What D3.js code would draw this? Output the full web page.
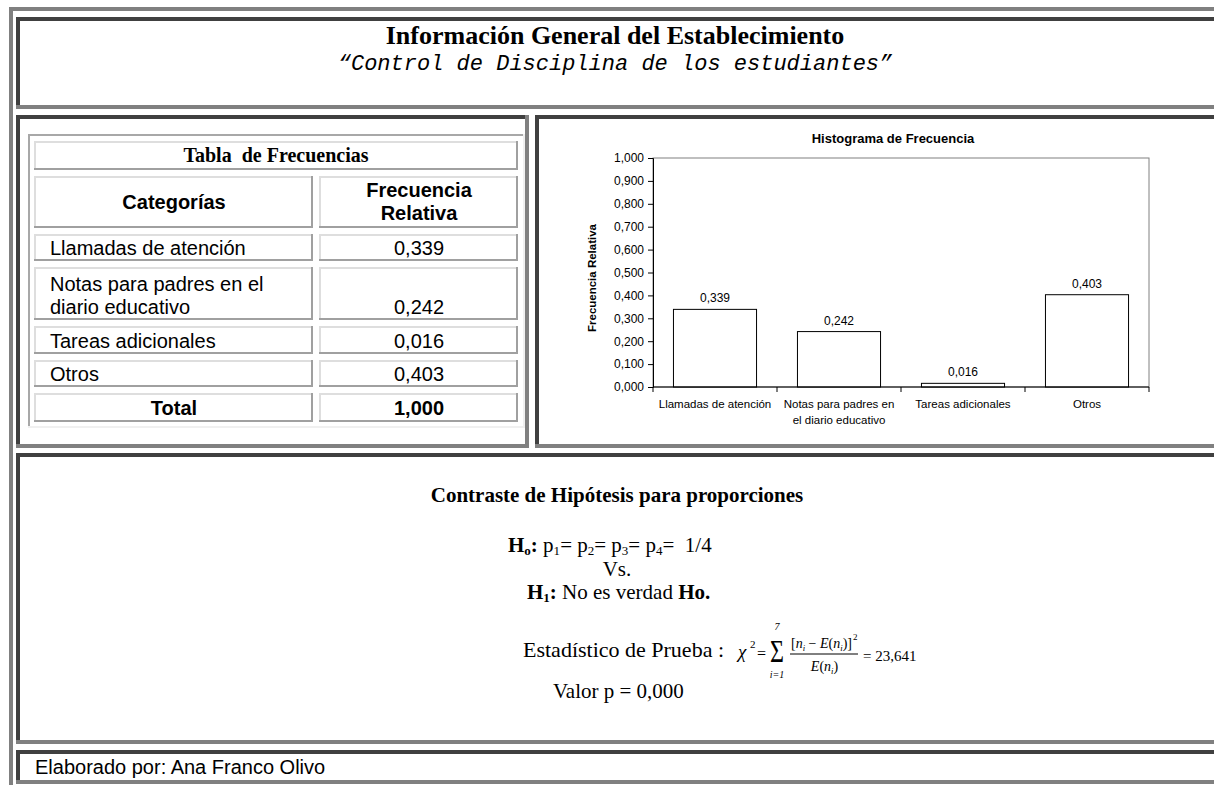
<!DOCTYPE html>
<html>
<head>
<meta charset="utf-8">
<script src="https://cdn.jsdelivr.net/npm/d3@7"></script>
<style>
  body { margin: 0; background: #fff; }
  svg { display: block; }
</style>
</head>
<body>
<script>
// datos
var categorias = ["Llamadas de atención", "Notas para padres en el diario educativo", "Tareas adicionales", "Otros"];
var etiquetasTabla = [["Llamadas de atención"], ["Notas para padres en el", "diario educativo"], ["Tareas adicionales"], ["Otros"]];
var etiquetasEje = [["Llamadas de atención"], ["Notas para padres en", "el diario educativo"], ["Tareas adicionales"], ["Otros"]];
var frecRelativa = [0.339, 0.242, 0.016, 0.403];
var total = 1.000;
var ticksY = [0, 0.1, 0.2, 0.3, 0.4, 0.5, 0.6, 0.7, 0.8, 0.9, 1.0];

var W = 1214, H = 785;
var oscuro = "#404040", gris = "#808080";

var locale = d3.formatLocale({decimal: ",", thousands: ".", grouping: [3], currency: ["", ""]});
var fmt = locale.format(".3f");

var svg = d3.select("body").append("svg")
    .attr("width", W)
    .attr("height", H);

// bordes tipo "inset" de las celdas html
function bordes(x0, y0, x1, y1, w, cA, cB) {
    svg.append("rect").attr("x", x0).attr("y", y0).attr("width", x1 - x0).attr("height", w).attr("fill", cA);
    svg.append("rect").attr("x", x0).attr("y", y0).attr("width", w).attr("height", y1 - y0).attr("fill", cA);
    svg.append("rect").attr("x", x0).attr("y", y1 - w).attr("width", x1 - x0).attr("height", w).attr("fill", cB);
    svg.append("rect").attr("x", x1 - w).attr("y", y0).attr("width", w).attr("height", y1 - y0).attr("fill", cB);
}

function texto(x, y, s, size, family, opts) {
    opts = opts || {};
    return svg.append("text")
        .attr("x", x).attr("y", y)
        .attr("font-family", family)
        .attr("font-size", size)
        .attr("font-weight", opts.bold ? "bold" : "normal")
        .attr("font-style", opts.italic ? "italic" : "normal")
        .attr("text-anchor", opts.anchor || "start")
        .attr("fill", "#000")
        .text(s);
}

var SERIF = "'Liberation Serif','Times New Roman',serif";
var SANS = "'Liberation Sans',Arial,sans-serif";
var MONO = "'Liberation Mono','Courier New',monospace";

// tabla exterior y celdas
bordes(9, 7, 1240, 800, 4, gris, gris);
bordes(16, 17, 1230, 109, 4, oscuro, gris);
bordes(16, 115, 529, 448, 4, oscuro, gris);
bordes(535, 115, 1230, 448, 4, oscuro, gris);
bordes(16, 453, 1230, 744, 4, oscuro, gris);
bordes(16, 750, 1230, 784, 4, oscuro, gris);

// encabezado
texto(615, 44, "Información General del Establecimiento", 26, SERIF, {bold: true, anchor: "middle"});
texto(615, 70, "\u201CControl de Disciplina de los estudiantes\u201D", 22, MONO, {italic: true, anchor: "middle"});

// ---- tabla de frecuencias ----
bordes(28, 134, 525, 428, 2, "#a8a8a8", "#f0f0f0");
var cLight = "#dedede", cDark = "#a0a0a0";
var col1 = [34, 313], col2 = [319, 518];
bordes(34, 141, 518, 170, 2, cLight, cDark);
svg.append("text")
    .attr("x", 276).attr("y", 162)
    .attr("font-family", SERIF).attr("font-size", 20).attr("font-weight", "bold")
    .attr("text-anchor", "middle")
    .attr("xml:space", "preserve")
    .text("Tabla  de Frecuencias");

bordes(col1[0], 176, col1[1], 228, 2, cLight, cDark);
bordes(col2[0], 176, col2[1], 228, 2, cLight, cDark);
texto(174, 209, "Categorías", 20, SANS, {bold: true, anchor: "middle"});
texto(419, 197, "Frecuencia", 20, SANS, {bold: true, anchor: "middle"});
texto(419, 220, "Relativa", 20, SANS, {bold: true, anchor: "middle"});

var filas = [[234, 261], [267, 320], [326, 354], [360, 387]];
frecRelativa.forEach(function (v, i) {
    var f = filas[i];
    bordes(col1[0], f[0], col1[1], f[1], 2, cLight, cDark);
    bordes(col2[0], f[0], col2[1], f[1], 2, cLight, cDark);
    var lineas = etiquetasTabla[i];
    lineas.forEach(function (l, j) {
        texto(50, f[1] - 6 - (lineas.length - 1 - j) * 23, l, 20, SANS);
    });
    texto(419, f[1] - 6, fmt(v), 20, SANS, {anchor: "middle"});
});
bordes(col1[0], 393, col1[1], 422, 2, cLight, cDark);
bordes(col2[0], 393, col2[1], 422, 2, cLight, cDark);
texto(174, 415, "Total", 20, SANS, {bold: true, anchor: "middle"});
texto(419, 415, fmt(total), 20, SANS, {bold: true, anchor: "middle"});

// ---- histograma ----
var plot = {left: 653, right: 1149, top: 158, bottom: 387};
var x = d3.scaleBand().domain(categorias).range([plot.left, plot.right]).padding(0);
var y = d3.scaleLinear().domain([0, 1]).range([plot.bottom, plot.top]);

var g = svg.append("g");
g.append("rect")
    .attr("x", plot.left).attr("y", plot.top)
    .attr("width", plot.right - plot.left).attr("height", plot.bottom - plot.top)
    .attr("fill", "none").attr("stroke", gris).attr("stroke-width", 1);

var bw = x.bandwidth() * 0.67;
g.selectAll(".barra")
    .data(frecRelativa)
    .enter()
    .append("rect")
    .attr("class", "barra")
    .attr("x", function (d, i) { return x(categorias[i]) + (x.bandwidth() - bw) / 2; })
    .attr("y", function (d) { return y(d); })
    .attr("width", bw)
    .attr("height", function (d) { return y(0) - y(d); })
    .attr("fill", "#fff")
    .attr("stroke", "#000")
    .attr("stroke-width", 1);

g.selectAll(".valor")
    .data(frecRelativa)
    .enter()
    .append("text")
    .attr("x", function (d, i) { return x(categorias[i]) + x.bandwidth() / 2; })
    .attr("y", function (d) { return y(d) - 7; })
    .attr("text-anchor", "middle")
    .attr("font-family", SANS)
    .attr("font-size", 12)
    .text(function (d) { return fmt(d); });

var ejeY = g.append("g")
    .attr("transform", "translate(" + plot.left + ",0)")
    .call(d3.axisLeft(y).tickValues(ticksY).tickSize(5).tickPadding(4).tickFormat(fmt));
ejeY.selectAll("text").attr("font-family", SANS).attr("font-size", 12).attr("fill", "#000");

// eje x con marcas entre categorias
var ejeX = g.append("g");
ejeX.append("line")
    .attr("x1", plot.left).attr("x2", plot.right)
    .attr("y1", plot.bottom).attr("y2", plot.bottom)
    .attr("stroke", "#000");
var limites = categorias.map(function (c) { return x(c); }).concat([plot.right]);
ejeX.selectAll(".marca")
    .data(limites)
    .enter()
    .append("line")
    .attr("x1", function (d) { return d; }).attr("x2", function (d) { return d; })
    .attr("y1", plot.bottom).attr("y2", plot.bottom + 5)
    .attr("stroke", "#000");
etiquetasEje.forEach(function (lineas, i) {
    lineas.forEach(function (l, j) {
        texto(x(categorias[i]) + x.bandwidth() / 2, 408 + j * 16, l, 11.5, SANS, {anchor: "middle"});
    });
});

texto(893, 143, "Histograma de Frecuencia", 13, SANS, {bold: true, anchor: "middle"});
svg.append("text")
    .attr("transform", "translate(596,278) rotate(-90)")
    .attr("text-anchor", "middle")
    .attr("font-family", SANS).attr("font-size", 11.5).attr("font-weight", "bold")
    .text("Frecuencia Relativa");

// ---- contraste de hipotesis ----
texto(617, 502, "Contraste de Hipótesis para proporciones", 21, SERIF, {bold: true, anchor: "middle"});

function segmentos(xx, yy, size, partes, anchor) {
    var t = svg.append("text")
        .attr("x", xx).attr("y", yy)
        .attr("font-family", SERIF).attr("font-size", size)
        .attr("text-anchor", anchor || "start")
        .attr("xml:space", "preserve");
    partes.forEach(function (p) {
        var s = t.append("tspan").text(p.t);
        if (p.b) s.attr("font-weight", "bold");
        if (p.i) s.attr("font-style", "italic");
        if (p.sub) s.attr("font-size", size * 0.62).attr("dy", 3);
        if (p.back) s.attr("dy", p.back);
    });
    return t;
}

segmentos(508, 552, 21, [
    {t: "H", b: true}, {t: "o", b: true, sub: true}, {t: ":", b: true, back: -3},
    {t: " p"}, {t: "1", sub: true}, {t: "= p", back: -3}, {t: "2", sub: true},
    {t: "= p", back: -3}, {t: "3", sub: true}, {t: "= p", back: -3}, {t: "4", sub: true},
    {t: "=  1/4", back: -3}
]);
texto(617, 576, "Vs.", 21, SERIF, {anchor: "middle"});
segmentos(527, 599, 21, [
    {t: "H", b: true}, {t: "1", b: true, sub: true}, {t: ":", b: true, back: -3},
    {t: " No es verdad "}, {t: "Ho.", b: true}
]);

texto(523, 657, "Estadístico de Prueba :", 22, SERIF);

// formula chi-cuadrado
texto(738, 658, "\u03C7", 19, SERIF, {italic: true});
texto(750, 648, "2", 11, SERIF);
texto(757, 659, "=", 16, SERIF);
svg.append("text")
    .attr("transform", "translate(777,662) scale(1,1.35)")
    .attr("text-anchor", "middle")
    .attr("font-family", SERIF).attr("font-size", 24)
    .text("\u03A3");
texto(777, 630, "7", 10, SERIF, {italic: true, anchor: "middle"});
texto(777, 678, "i=1", 10, SERIF, {italic: true, anchor: "middle"});
var num = segmentos(791, 648, 14, [
    {t: "["}, {t: "n", i: true}, {t: "i", i: true, sub: true},
    {t: " \u2212 ", back: -3}, {t: "E", i: true}, {t: "("}, {t: "n", i: true},
    {t: "i", i: true, sub: true}, {t: ")]", back: -3}
]);
var numW = num.node().getComputedTextLength();
texto(791 + numW + 1, 640, "2", 9, SERIF);
svg.append("line").attr("x1", 790).attr("x2", 791 + numW + 6).attr("y1", 654).attr("y2", 654)
    .attr("stroke", "#000").attr("stroke-width", 1);
segmentos(791 + (numW + 6) / 2, 671, 14, [
    {t: "E", i: true}, {t: "("}, {t: "n", i: true}, {t: "i", i: true, sub: true}, {t: ")", back: -3}
], "middle");
texto(791 + numW + 11, 661, "= 23,641", 15, SERIF);

texto(553, 698, "Valor p = 0,000", 21, SERIF);

// pie
texto(35, 774, "Elaborado por: Ana Franco Olivo", 20, SANS);
</script>
</body>
</html>
